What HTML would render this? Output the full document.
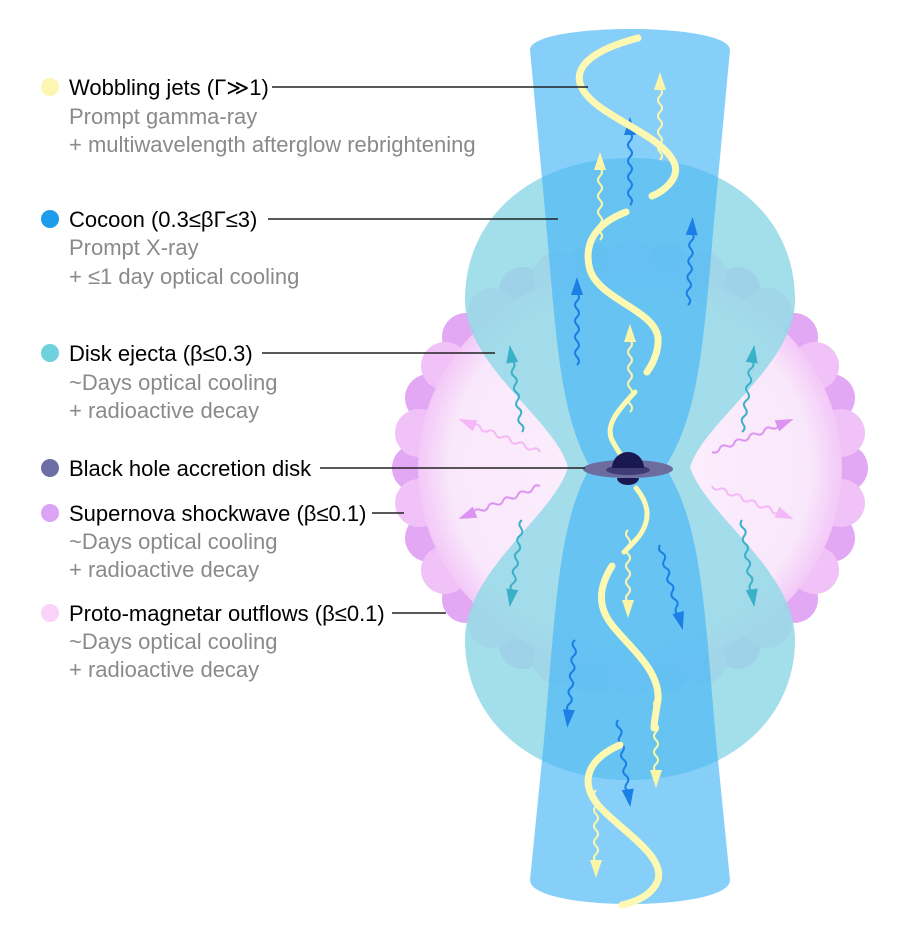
<!DOCTYPE html>
<html><head><meta charset="utf-8"><style>
html,body{margin:0;padding:0;background:#fff;}
svg{display:block;}
text{font-family:"Liberation Sans",sans-serif;font-size:22px;}
.g{fill:#8a8a8a;}
</style></head><body>
<svg width="911" height="943" viewBox="0 0 911 943" xmlns="http://www.w3.org/2000/svg">
<defs>
<radialGradient id="pk" cx="0.5" cy="0.5" r="0.5">
<stop offset="0" stop-color="#fcf0fd"/>
<stop offset="0.85" stop-color="#f9e8fb"/>
<stop offset="1" stop-color="#f3c8f8"/>
</radialGradient>
<g id="wu"><path d="M0 0 q4 -4 0 -8 t0 -8 t0 -8 t0 -8 t0 -8 t0 -8 t0 -8 t0 -8 t0 -8" fill="none" stroke="currentColor" stroke-width="2"/><polygon points="0,-88 -6,-70 6,-70" fill="currentColor"/></g>
</defs>
<!-- pink blob scallops -->
<g fill="#e2a8f4">
<circle cx="844" cy="468" r="24"/><circle cx="831" cy="538" r="24"/><circle cx="794" cy="599" r="24"/><circle cx="737" cy="645" r="24"/><circle cx="667" cy="669" r="24"/>
<circle cx="593" cy="669" r="24"/><circle cx="523" cy="645" r="24"/><circle cx="466" cy="599" r="24"/><circle cx="429" cy="538" r="24"/><circle cx="416" cy="468" r="24"/>
<circle cx="429" cy="398" r="24"/><circle cx="466" cy="337" r="24"/><circle cx="523" cy="291" r="24"/><circle cx="593" cy="267" r="24"/>
<circle cx="667" cy="267" r="24"/><circle cx="737" cy="291" r="24"/><circle cx="794" cy="337" r="24"/><circle cx="831" cy="398" r="24"/>
</g>
<g fill="#f1c2f8">
<circle cx="841" cy="503" r="24"/><circle cx="815" cy="570" r="24"/><circle cx="768" cy="624" r="24"/><circle cx="703" cy="660" r="24"/><circle cx="630" cy="672" r="24"/>
<circle cx="557" cy="660" r="24"/><circle cx="492" cy="624" r="24"/><circle cx="445" cy="570" r="24"/><circle cx="419" cy="503" r="24"/>
<circle cx="419" cy="433" r="24"/><circle cx="445" cy="366" r="24"/><circle cx="492" cy="312" r="24"/><circle cx="557" cy="276" r="24"/><circle cx="630" cy="264" r="24"/>
<circle cx="703" cy="276" r="24"/><circle cx="768" cy="312" r="24"/><circle cx="815" cy="366" r="24"/><circle cx="841" cy="433" r="24"/>
</g>
<ellipse cx="630" cy="468" rx="212" ry="200" fill="url(#pk)"/>
<!-- pink arrows -->
<g transform="translate(540,452) rotate(-68)" color="#f4b8f6"><use href="#wu"/></g>
<g transform="translate(540,486) rotate(-112)" color="#dc94f0"><use href="#wu"/></g>
<g transform="translate(712,452) rotate(68)" color="#dc94f0"><use href="#wu"/></g>
<g transform="translate(712,486) rotate(112)" color="#f4b8f6"><use href="#wu"/></g>
<!-- cocoon -->
<path d="M630 158 C725 158 795 215 795 300 C795 365 705 420 690 467 C705 515 795 570 795 640 C795 722 725 780 630 780 C535 780 465 722 465 640 C465 570 555 515 568 467 C555 420 465 365 465 300 C465 215 535 158 630 158 Z" fill="#93d9e6" opacity="0.85"/>
<!-- teal arrows -->
<g transform="translate(522,432) rotate(-8)" color="#3ab1c9"><use href="#wu"/></g>
<g transform="translate(742,432) rotate(8)" color="#3ab1c9"><use href="#wu"/></g>
<g transform="translate(522,520) rotate(188)" color="#3ab1c9"><use href="#wu"/></g>
<g transform="translate(742,520) rotate(172)" color="#3ab1c9"><use href="#wu"/></g>
<!-- jet -->
<path d="M530 50 C530 22 730 22 730 50 L716 200 C704 330 702 410 665 467 C702 525 704 605 716 740 L730 880 C730 912 530 912 530 880 L544 740 C556 605 558 525 590 467 C558 410 556 330 544 200 Z" fill="#48b6f6" opacity="0.66"/>
<!-- blue arrows -->
<g transform="translate(630,205)" color="#1b7fe6"><use href="#wu"/></g>
<g transform="translate(577,365)" color="#1b7fe6"><use href="#wu"/></g>
<g transform="translate(688,305) rotate(3)" color="#1b7fe6"><use href="#wu"/></g>
<g transform="translate(660,545) rotate(165)" color="#1b7fe6"><use href="#wu"/></g>
<g transform="translate(575,640) rotate(185)" color="#1b7fe6"><use href="#wu"/></g>
<g transform="translate(618,720) rotate(172)" color="#1b7fe6"><use href="#wu"/></g>
<!-- yellow arrows -->
<g transform="translate(660,160)" color="#fbf5a8"><use href="#wu"/></g>
<g transform="translate(600,240)" color="#fbf5a8"><use href="#wu"/></g>
<g transform="translate(630,412)" color="#fbf5a8"><use href="#wu"/></g>
<g transform="translate(628,530) rotate(180)" color="#fbf5a8"><use href="#wu"/></g>
<g transform="translate(656,700) rotate(180)" color="#fbf5a8"><use href="#wu"/></g>
<g transform="translate(596,790) rotate(180)" color="#fbf5a8"><use href="#wu"/></g>
<!-- yellow S curves -->
<g fill="none" stroke="#fdf8b2" stroke-linecap="round">
<path d="M638 38 C600 48 568 65 583 90 C600 118 665 135 675 165 C679 180 662 192 652 196" stroke-width="7"/>
<path d="M626 212 C600 222 582 240 590 270 C600 300 655 310 658 338 C659 352 652 365 647 372" stroke-width="7"/>
<path d="M635 392 C618 410 605 425 612 440 C618 452 624 458 624 462" stroke-width="5"/>
<path d="M636 488 C650 505 650 520 640 535 C632 545 626 550 624 552" stroke-width="5"/>
<path d="M612 566 C600 585 596 605 612 625 C630 648 660 670 658 700 C656 712 654 722 654 728" stroke-width="7"/>
<path d="M620 745 C590 758 578 780 598 805 C620 830 665 855 658 880 C652 896 635 902 622 905" stroke-width="7"/>
</g>
<!-- black hole -->
<ellipse cx="628" cy="469" rx="45" ry="9" fill="#6c6d9e"/>
<ellipse cx="628" cy="470" rx="22" ry="5" fill="#3d3c74"/>
<path d="M612 468 A16 16 0 0 1 644 468 Z" fill="#1a1850"/>
<path d="M617 478 A11 7 0 0 0 639 478 Z" fill="#1a1850"/>
<!-- leader lines -->
<g stroke="#222" stroke-width="1.5">
<line x1="272" y1="87" x2="588" y2="87"/>
<line x1="268" y1="219" x2="558" y2="219"/>
<line x1="262" y1="353" x2="495" y2="353"/>
<line x1="320" y1="468" x2="585" y2="468"/>
<line x1="372" y1="513" x2="404" y2="513"/>
<line x1="392" y1="613" x2="446" y2="613"/>
</g>
<!-- legend -->
<circle cx="50" cy="87" r="9" fill="#fbf7b2"/>
<circle cx="50" cy="219" r="9" fill="#1d9ceb"/>
<circle cx="50" cy="353" r="9" fill="#6fd0de"/>
<circle cx="50" cy="468" r="9" fill="#6d6ea6"/>
<circle cx="50" cy="513" r="9" fill="#dca2f5"/>
<circle cx="50" cy="613" r="9" fill="#fbd2f8"/>
<text x="69" y="95">Wobbling jets (Γ≫1)</text>
<text class="g" x="69" y="124">Prompt gamma-ray</text>
<text class="g" x="69" y="152">+ multiwavelength afterglow rebrightening</text>
<text x="69" y="227">Cocoon (0.3≤βΓ≤3)</text>
<text class="g" x="69" y="255">Prompt X-ray</text>
<text class="g" x="69" y="284">+ ≤1 day optical cooling</text>
<text x="69" y="361">Disk ejecta (β≤0.3)</text>
<text class="g" x="69" y="390">~Days optical cooling</text>
<text class="g" x="69" y="418">+ radioactive decay</text>
<text x="69" y="476">Black hole accretion disk</text>
<text x="69" y="521">Supernova shockwave (β≤0.1)</text>
<text class="g" x="69" y="549">~Days optical cooling</text>
<text class="g" x="69" y="577">+ radioactive decay</text>
<text x="69" y="621">Proto-magnetar outflows (β≤0.1)</text>
<text class="g" x="69" y="649">~Days optical cooling</text>
<text class="g" x="69" y="677">+ radioactive decay</text>
</svg>
</body></html>
